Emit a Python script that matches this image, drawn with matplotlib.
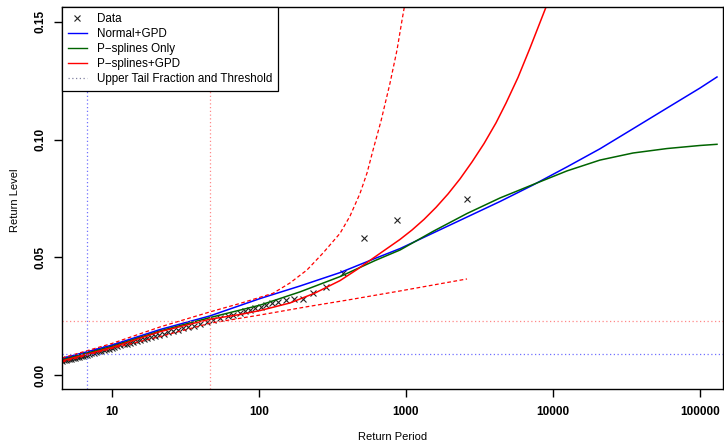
"""Return level plot: empirical data vs three fitted tail models."""

import matplotlib
matplotlib.use("Agg")
import matplotlib.pyplot as plt
from matplotlib.lines import Line2D

plt.rcParams["font.family"] = ["Liberation Sans", "DejaVu Sans"]

# empirical return levels
data_period = [4.60, 4.72, 4.85, 4.98, 5.12, 5.27, 5.42, 5.58, 5.75, 5.93,
               6.12, 6.32, 6.53, 6.76, 7.00, 7.25, 7.52, 7.81, 8.12, 8.44,
               8.79, 9.16, 9.56, 9.99, 10.4, 10.9, 11.4, 12.0, 12.6, 13.2,
               13.9, 14.7, 15.5, 16.4, 17.4, 18.5, 19.7, 21.0, 22.5, 24.1,
               26.0, 28.1, 30.4, 33.1, 36.2, 39.8, 44.0, 48.9, 54.7, 61.8,
               67.0, 74.0, 80.0, 87.0, 94.0, 103, 112, 123, 135, 153,
               173, 198, 234, 286, 371, 518, 869, 2600]
data_level = [0.0061, 0.0063, 0.0065, 0.0067, 0.0068, 0.0070, 0.0072, 0.0074, 0.0076, 0.0078,
              0.0080, 0.0082, 0.0085, 0.0087, 0.0089, 0.0092, 0.0094, 0.0097, 0.0100, 0.0103,
              0.0106, 0.0109, 0.0112, 0.0116, 0.0119, 0.0122, 0.0126, 0.0130, 0.0133, 0.0137,
              0.0141, 0.0145, 0.0149, 0.0153, 0.0157, 0.0162, 0.0166, 0.0171, 0.0176, 0.0181,
              0.0187, 0.0192, 0.0198, 0.0204, 0.0210, 0.0217, 0.0224, 0.0232, 0.0240, 0.0249,
              0.0255, 0.0263, 0.0272, 0.0276, 0.0283, 0.0288, 0.0297, 0.0305, 0.0311, 0.0319,
              0.0322, 0.0322, 0.0347, 0.0375, 0.0435, 0.0581, 0.0658, 0.0748]

# Normal+GPD
blue_period = [4.57, 10, 21.2, 46.4, 102, 190, 356, 615, 911, 1527, 2600, 4360, 7310,
               12450, 20880, 35010, 59650, 100000, 130500]
blue_level = [0.0070, 0.0127, 0.0193, 0.0251, 0.0325, 0.0378, 0.0435, 0.0495, 0.0537,
              0.0603, 0.0671, 0.0737, 0.0807, 0.0884, 0.0961, 0.1046, 0.1134, 0.1219, 0.1266]

# P-splines only
green_period = [4.57, 10, 21.2, 46.4, 102, 190, 356, 615, 911, 1527, 2600, 4360, 7310,
                12450, 20880, 35010, 59650, 100000, 130500]
green_level = [0.0064, 0.0121, 0.0187, 0.0244, 0.0297, 0.0353, 0.0418, 0.0486, 0.0531,
               0.0610, 0.0686, 0.0752, 0.0809, 0.0867, 0.0913, 0.0943, 0.0962, 0.0975, 0.0980]

# P-splines+GPD
red_period = [4.57, 10, 21.2, 46.4, 74.3, 102, 162.5, 240, 356, 464, 597, 911, 1099,
              1326, 1600, 1931, 2330, 2812, 3394, 4095, 4790, 5780, 6976, 8965, 10480]
red_level = [0.0060, 0.0117, 0.0184, 0.0237, 0.0257, 0.0274, 0.0306, 0.0348, 0.0401,
             0.0448, 0.0496, 0.0576, 0.0616, 0.0661, 0.0712, 0.0769, 0.0833, 0.0905,
             0.0983, 0.1071, 0.1155, 0.1264, 0.1389, 0.1563, 0.1669]

# confidence band of P-splines+GPD
upper_period = [4.57, 10, 21.2, 46.4, 74.3, 124.5, 162.5, 212, 272.5, 356, 416, 487,
                543, 597, 676, 778, 869, 940, 985, 1000]
upper_level = [0.0072, 0.0134, 0.0204, 0.0268, 0.0304, 0.0347, 0.0391, 0.0446, 0.0518,
               0.0602, 0.0675, 0.0772, 0.0858, 0.0956, 0.1079, 0.1239, 0.1381, 0.1508,
               0.1580, 0.1610]

lower_period = [4.57, 10, 21.2, 46.4, 102, 212, 397, 911, 2600]
lower_level = [0.0055, 0.0113, 0.0163, 0.0220, 0.0255, 0.0290, 0.0318, 0.0357, 0.0408]

# thresholds
blue_thr_period, blue_thr_level = 6.75, 0.0091
red_thr_period, red_thr_level = 46.4, 0.0231

x_ticks = [10, 100, 1000, 10000, 100000]
x_labels = ["10", "100", "1000", "10000", "100000"]
y_ticks = [0.00, 0.05, 0.10, 0.15]
y_labels = ["0.00", "0.05", "0.10", "0.15"]

fig = plt.figure(figsize=(7.24, 4.44), dpi=100)
ax = fig.add_axes([62 / 724, 1 - 389 / 444, (722.7 - 62) / 724, (389 - 7.3) / 444])

ax.plot(data_period, data_level, linestyle="none", marker="x", markersize=3.8,
        markeredgewidth=0.8, color="#222222")

ax.plot(blue_period, blue_level, color="#0000ff", lw=1.1)
ax.plot(green_period, green_level, color="#006400", lw=1.1)
ax.plot(red_period, red_level, color="#ff0000", lw=1.1)
ax.plot(upper_period, upper_level, color="#ff0000", lw=0.9, ls=(0, (3, 2)))
ax.plot(lower_period, lower_level, color="#ff0000", lw=0.9, ls=(0, (3, 2)))

ax.axvline(blue_thr_period, color="#7070ff", lw=0.9, ls=(0, (1, 2)))
ax.axhline(blue_thr_level, color="#7070ff", lw=0.9, ls=(0, (1, 2)))
ax.axvline(red_thr_period, color="#ff8888", lw=0.9, ls=(0, (1, 2)))
ax.axhline(red_thr_level, color="#ff8888", lw=0.9, ls=(0, (1, 2)))

ax.set_xscale("log")
ax.set_xlim(4.57, 142700)
ax.set_ylim(-0.00595, 0.1562)
ax.minorticks_off()
ax.set_xticks(x_ticks)
ax.set_xticklabels(x_labels, fontsize=8.5, fontweight="bold")
ax.set_yticks(y_ticks)
ax.set_yticklabels(y_labels, fontsize=8.5, fontweight="bold", rotation=90, va="center")
ax.tick_params(axis="x", length=5.5, width=1, pad=7)
ax.tick_params(axis="y", length=5.5, width=1, pad=6)
for s in ax.spines.values():
    s.set_linewidth(1.0)

fig.text(0.5 * (62 + 722.7) / 724, 1 - 437 / 444, "Return Period", ha="center",
         va="center", fontsize=8)
fig.text(15 / 724, 1 - 200 / 444, "Return Level", ha="center", va="center",
         rotation=90, fontsize=8)

handles = [
    Line2D([], [], ls="none", marker="x", markersize=3.8, markeredgewidth=0.8, color="#222222"),
    Line2D([], [], color="#0000ff", lw=1.0),
    Line2D([], [], color="#006400", lw=1.0),
    Line2D([], [], color="#ff0000", lw=1.0),
    Line2D([], [], color="#8080a0", lw=0.9, ls=(0, (1, 2))),
]
labels = ["Data", "Normal+GPD", "P\u2212splines Only", "P\u2212splines+GPD",
          "Upper Tail Fraction and Threshold"]
leg = ax.legend(handles, labels, loc="upper left", bbox_to_anchor=(0, 1),
                borderaxespad=0, fontsize=8.4, frameon=True, fancybox=False,
                edgecolor="black", framealpha=1, handlelength=1.6,
                handletextpad=0.9, labelspacing=0.25, borderpad=0.5)
leg.get_frame().set_linewidth(0.9)

fig.savefig("out.png", dpi=100)
